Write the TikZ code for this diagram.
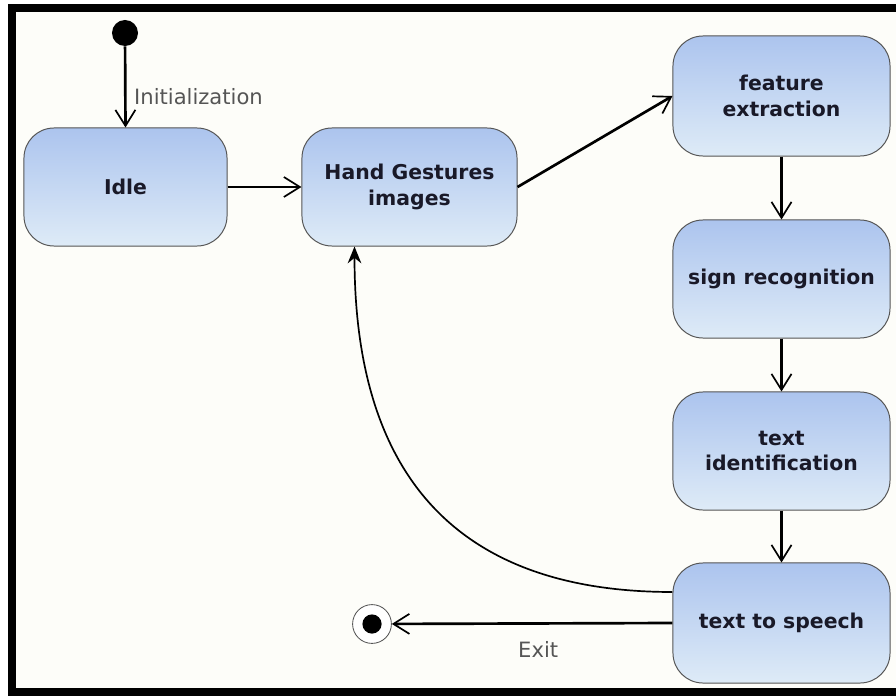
\documentclass[tikz,border=0pt]{standalone}
\usepackage{fontspec}
\setsansfont{DejaVu Sans}
\usepackage{tikz}
\usetikzlibrary{arrows.meta,positioning,calc,shapes}

\definecolor{boxtop}{RGB}{172,196,238}
\definecolor{boxbot}{RGB}{222,235,247}
\definecolor{boxline}{RGB}{85,85,85}
\definecolor{boxtext}{RGB}{25,25,40}
\definecolor{paper}{RGB}{253,253,249}
\definecolor{labelgray}{RGB}{85,85,85}

\tikzset{
  state/.style={rectangle, rounded corners=0.75cm, draw=boxline, line width=0.7pt,
    top color=boxtop, bottom color=boxbot, align=center, text=boxtext,
    font=\sffamily\bfseries\fontsize{14.5}{18}\selectfont},
  trans/.style={line width=1.9pt, -{Straight Barb[length=4mm,width=5mm,line width=1.2pt]}},
  back/.style={line width=1.2pt, -{Stealth[length=4.2mm,width=3.4mm]}},
  lbl/.style={text=labelgray, font=\sffamily\fontsize{15}{17}\selectfont}
}

\begin{document}
\begin{tikzpicture}[x=0.025cm, y=-0.025cm]
    \useasboundingbox (0,0) rectangle (896,696);
    % frame
    \fill[white] (0,0) rectangle (896,696);
    \fill[paper] (16,12) rectangle (896,688);
    \fill[black] (8,4) rectangle (896,12);
    \fill[black] (8,4) rectangle (16,696);
    \fill[black] (8,688) rectangle (896,696);

    % states
    \node[circle, fill=black, minimum size=0.65cm, inner sep=0pt] (init) at (125,33) {};
    \node[state, minimum width=5.075cm, minimum height=2.95cm] (idle) at (125.5,187) {Idle};
    \node[state, minimum width=5.375cm, minimum height=2.95cm] (hand) at (409.5,187) {Hand Gestures\\images};
    \node[state, minimum width=5.425cm, minimum height=3.0cm] (feat) at (781.5,96) {feature\\extraction};
    \node[state, minimum width=5.425cm, minimum height=2.95cm] (sign) at (781.5,279) {sign recognition};
    \node[state, minimum width=5.425cm, minimum height=2.95cm] (textid) at (781.5,451) {text\\identification};
    \node[state, minimum width=5.425cm, minimum height=3.0cm] (tts) at (781.5,623) {text to speech};
    \node[circle, draw=boxline, line width=0.6pt, fill=white, minimum size=0.97cm, inner sep=0pt] (final) at (372,624) {};
    \fill[black] (final.center) circle (0.24cm);

    % transitions
    \draw[trans] (init) -- (idle.north) node[lbl, pos=0.62, right=2pt] (initlbl) {Initialization};
    \draw[trans] (idle.east) -- (hand.west);
    \draw[trans] (hand.east) -- (feat.west);
    \draw[trans] (feat) -- (sign);
    \draw[trans] (sign) -- (textid);
    \draw[trans] (textid) -- (tts);
    \draw[trans] (tts.west) -- (final) node[lbl, midway, below=0.3cm, xshift=0.15cm] (exitlbl) {Exit};

    % back to the images
    \coordinate (backstart) at ($(tts.west)+(0,-31)$);
    \coordinate (backend) at ($(hand.south)+(-55,0)$);
    \draw[back] (backstart) .. controls ($(backstart)+(-210,0)$) and ($(backend)+(0,235)$) .. (backend);
\end{tikzpicture}
\end{document}
